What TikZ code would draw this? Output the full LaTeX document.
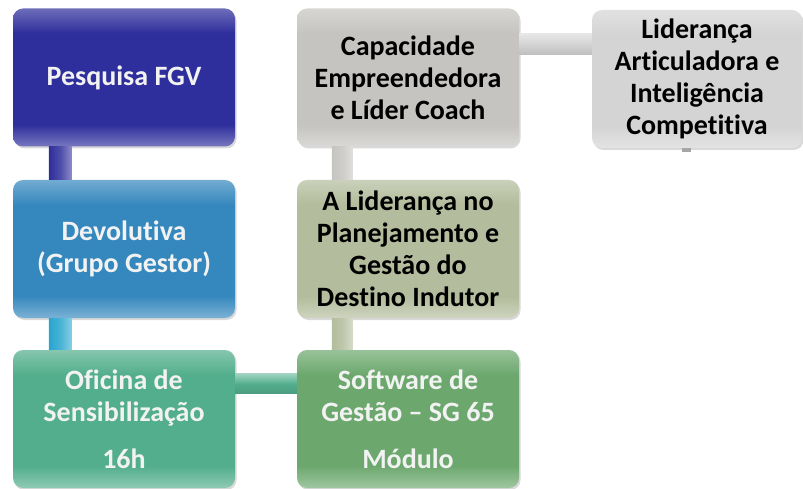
\documentclass[tikz,border=0pt]{standalone}
\usepackage{fontspec}
\setmainfont[Ligatures=NoCommon]{Carlito}
\usetikzlibrary{shadows}

\definecolor{pesqcol}{HTML}{2E2E9C}
\definecolor{devolcol}{HTML}{3588BE}
\definecolor{oficcol}{HTML}{52AE8C}
\definecolor{softcol}{HTML}{6CA86E}
\definecolor{lidercol}{HTML}{B3BC9C}
\definecolor{capaccol}{HTML}{C5C4C0}
\definecolor{lidartcol}{HTML}{D4D4D4}

\colorlet{boxcol}{gray}
\pgfdeclareverticalshading[boxcol]{boxshade}{100bp}{%
  color(0bp)=(boxcol!65!white); color(25bp)=(boxcol!65!white);
  color(33bp)=(boxcol); color(66bp)=(boxcol);
  color(75bp)=(boxcol!70!white); color(100bp)=(boxcol!70!white)}

\tikzset{
  box/.style={rounded corners=10pt, minimum width=222pt, minimum height=138pt,
    text width=214pt, align=flush center, inner sep=0pt,
    font=\fontsize{28}{32}\selectfont\bfseries,
    drop shadow={opacity=0.3, shadow xshift=1.5pt, shadow yshift=-2pt}},
  colbox/.style={box, /utils/exec={\colorlet{boxcol}{#1}}, shading=boxshade},
  vbar/.style={left color=#1, right color=#1!55!white, middle color=#1!85!white},
  hbar/.style={top color=#1!55!white, bottom color=#1!90!black, middle color=#1},
}

\begin{document}
\begin{tikzpicture}[x=1pt, y=-1pt]
    \useasboundingbox (0,0) rectangle (803,489);

    % Left column.
    \node[colbox=pesqcol, text=white!95!black]  (pesq)  at (124,77.5) {Pesquisa FGV};
    \node[colbox=devolcol, text=white!95!black] (devol) at (124,249) {Devolutiva\\(Grupo Gestor)};
    \node[colbox=oficcol, text=white!95!black]  (ofic)  at (124,419) {Oficina de\\Sensibilização\\[15pt]16h};

    % Middle column.
    \node[colbox=softcol, text=white!95!black]  (soft)  at (408,419) {Software de\\Gestão -- SG 65\\[15pt]Módulo};
    \node[colbox=lidercol, text=black]          (lider) at (408,249) {A Liderança no\\Planejamento e\\Gestão do\\Destino Indutor};
    \node[colbox=capaccol, text=black]          (capac) at (408,77.5) {Capacidade\\Empreendedora\\e Líder Coach};

    % Right column.
    \node[colbox=lidartcol, text=black, minimum width=210pt, text width=204pt] (lidart) at (697,79)
        {Liderança\\Articuladora e\\Inteligência\\Competitiva};

    % Bars between the boxes.
    \path[vbar=pesqcol]  ([xshift=36pt]pesq.south west)  rectangle ([xshift=59pt]devol.north west);
    \path[vbar=devolcol!75!cyan] ([xshift=36pt]devol.south west) rectangle ([xshift=59pt]ofic.north west);
    \path[hbar=oficcol]  ([yshift=-24pt]ofic.north east) rectangle ([yshift=-44pt]soft.north west);
    \path[vbar=lidercol] ([xshift=35pt]soft.north west)  rectangle ([xshift=56pt]lider.south west);
    \path[vbar=capaccol] ([xshift=35pt]lider.north west) rectangle ([xshift=56pt]capac.south west);
    \path[hbar=lidartcol] ([yshift=-25pt]capac.north east) rectangle ([yshift=-45pt]lidart.north west);

    % Stub under the last box.
    \coordinate (stub) at ([xshift=90pt,yshift=-4pt]lidart.south west);
    \path[fill=gray!70] ([xshift=90pt]lidart.south west) rectangle ([xshift=9pt]stub);

\end{tikzpicture}
\end{document}
